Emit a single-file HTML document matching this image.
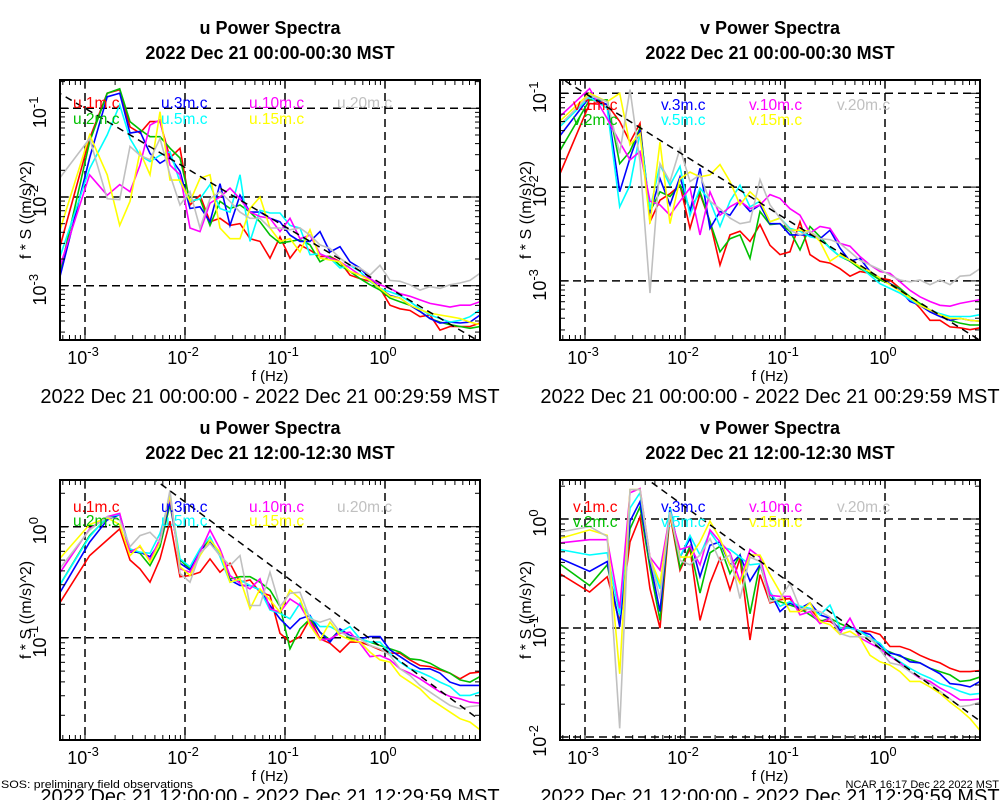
<!DOCTYPE html>
<html><head><meta charset="utf-8"><style>
html,body{margin:0;padding:0;background:#fff;}
svg{display:block;font-family:"Liberation Sans",sans-serif;}
</style></head><body>
<svg id="chart" width="1000" height="800" viewBox="0 0 1000 800" xmlns="http://www.w3.org/2000/svg"></svg>
<script>
// frequency categories (log10 Hz)
const logFreq = [-3.255,-2.954,-2.778,-2.653,-2.55,-2.45,-2.35,-2.25,-2.15,-2.05,-1.95,-1.85,-1.75,-1.65,-1.55,-1.45,-1.35,-1.25,-1.15,-1.05,-0.95,-0.85,-0.75,-0.65,-0.55,-0.45,-0.35,-0.25,-0.15,-0.05,0.05,0.15,0.25,0.35,0.45,0.55,0.65,0.75,0.85,0.95];
const seriesNames = ["1m","2m","3m","5m","10m","15m","20m"];
const seriesColors = ["#ff0000","#00c000","#0000ff","#00ffff","#ff00ff","#ffff00","#c0c0c0"];
// log10 of f*S values, top-left (u, 00:00)
const uNight_1m = [-2.58,-1.34,-0.83,-0.79,-1.21,-1.28,-1.15,-1.15,-1.56,-1.45,-2.09,-1.98,-2.28,-2.24,-2.32,-2.30,-2.47,-2.5,-2.69,-2.45,-2.69,-2.54,-2.6,-2.67,-2.67,-2.73,-2.88,-2.92,-2.95,-3.03,-3.22,-3.26,-3.28,-3.35,-3.33,-3.5,-3.46,-3.46,-3.46,-3.42];
const uNight_2m = [-2.88,-1.38,-0.83,-0.78,-1.15,-1.24,-1.32,-1.32,-1.45,-1.56,-2.05,-2.02,-2.32,-2.05,-2.13,-2.09,-2.17,-2.28,-2.43,-2.52,-2.5,-2.48,-2.54,-2.73,-2.67,-2.77,-2.84,-2.92,-2.99,-3.05,-3.14,-3.18,-3.22,-3.29,-3.37,-3.41,-3.44,-3.46,-3.48,-3.46];
const uNight_3m = [-2.92,-1.56,-0.87,-0.83,-1.28,-1.26,-1.51,-1.62,-1.55,-1.71,-2.13,-2.11,-2.28,-1.85,-2.32,-1.98,-2.17,-2.17,-2.24,-2.28,-2.43,-2.5,-2.5,-2.39,-2.62,-2.56,-2.73,-2.8,-2.92,-3.03,-3.11,-3.14,-3.22,-3.29,-3.37,-3.42,-3.41,-3.42,-3.41,-3.33];
const uNight_5m = [-2.69,-1.68,-1.3,-0.96,-1.34,-1.53,-1.6,-1.53,-1.49,-1.83,-2.05,-2.02,-1.86,-2.13,-2.17,-1.75,-2.5,-2.15,-2.18,-2.18,-2.32,-2.35,-2.65,-2.64,-2.69,-2.8,-2.77,-2.84,-2.95,-3.03,-3.07,-3.11,-3.18,-3.26,-3.33,-3.37,-3.41,-3.39,-3.35,-3.27];
const uNight_10m = [-2.8,-1.75,-1.98,-1.86,-1.94,-1.64,-1.19,-1.13,-1.64,-1.75,-2.35,-2.39,-2.07,-2,-1.9,-2.02,-2.17,-2.22,-2.24,-2.39,-2.24,-2.47,-2.43,-2.64,-2.69,-2.73,-2.8,-2.88,-2.92,-2.99,-3.03,-3.09,-3.12,-3.16,-3.2,-3.22,-3.24,-3.22,-3.22,-3.18];
const uNight_15m = [-2.39,-1.3,-1.75,-2.32,-2.05,-1.49,-1.75,-1.04,-1.81,-1.81,-2.05,-1.79,-1.75,-2.35,-2.47,-2.47,-2.13,-2,-2.35,-2.5,-2.47,-2.62,-2.37,-2.69,-2.71,-2.73,-2.84,-2.88,-2.94,-3.03,-3.12,-3.14,-3.22,-3.27,-3.31,-3.33,-3.35,-3.37,-3.41,-3.44];
const uNight_20m = [-1.79,-1.34,-2.02,-2.03,-1.43,-1.53,-1.58,-1.34,-1.75,-2.09,-1.94,-2.35,-2.02,-1.94,-2.05,-2.17,-2.24,-2.24,-2.35,-2.35,-2.37,-2.35,-2.43,-2.54,-2.58,-2.69,-2.77,-2.8,-2.88,-2.77,-2.94,-2.95,-2.99,-3.05,-3.01,-3.03,-2.99,-2.97,-2.94,-2.86];
// top-right (v, 00:00)
const vNight_1m = [-1.87,-1.11,-1.12,-1.3,-1.52,-1.32,-2.37,-2.14,-2.07,-1.98,-2.44,-2.07,-2.37,-2.83,-2.51,-2.47,-2.58,-2.4,-2.62,-2.72,-2.69,-2.37,-2.72,-2.79,-2.81,-2.87,-2.95,-2.9,-2.92,-2.97,-2.99,-3.08,-3.18,-3.29,-3.42,-3.42,-3.49,-3.5,-3.52,-3.5];
const vNight_2m = [-1.62,-1.07,-1.07,-1.75,-1.62,-1.37,-2.26,-2.05,-2.1,-1.98,-2.24,-2.05,-2.37,-2.69,-2.55,-2.51,-2.76,-2.26,-2.4,-2.39,-2.47,-2.67,-2.42,-2.53,-2.65,-2.74,-2.79,-2.87,-2.92,-2.99,-3.03,-3.08,-3.17,-3.24,-3.31,-3.36,-3.42,-3.45,-3.47,-3.47];
const vNight_3m = [-1.46,-1.04,-1.12,-2.05,-1.69,-1.39,-2.28,-1.91,-2.19,-1.89,-2.26,-1.8,-2.44,-2.26,-2.3,-2.14,-2.26,-2.19,-2.39,-2.39,-2.51,-2.51,-2.51,-2.55,-2.46,-2.65,-2.79,-2.76,-2.9,-2.97,-3.03,-3.1,-3.22,-3.26,-3.33,-3.38,-3.42,-3.4,-3.42,-3.43];
const vNight_5m = [-1.36,-1.04,-1.16,-2.21,-1.98,-1.43,-2.24,-1.76,-1.98,-1.78,-2.3,-2.01,-2.15,-2.42,-2.15,-1.98,-2.21,-2.15,-2.37,-2.33,-2.44,-2.47,-2.53,-2.55,-2.65,-2.74,-2.78,-2.85,-2.94,-3.03,-3.08,-3.13,-3.2,-3.26,-3.31,-3.35,-3.38,-3.38,-3.38,-3.36];
const vNight_10m = [-1.25,-0.95,-1.27,-1.52,-1.71,-1.62,-2.15,-2.19,-2.3,-2.15,-2.01,-2.51,-2.05,-2.3,-2.21,-2.15,-2.23,-2.19,-2.08,-2.12,-2.23,-2.3,-2.49,-2.42,-2.44,-2.6,-2.63,-2.74,-2.83,-2.9,-2.92,-3.01,-3.1,-3.17,-3.22,-3.26,-3.27,-3.24,-3.22,-3.2];
const vNight_15m = [-1.3,-1.0,-1.09,-1.0,-1.55,-1.43,-2.39,-1.52,-2.39,-1.91,-1.84,-1.89,-1.87,-1.76,-1.94,-2.19,-2.05,-2.15,-2.37,-2.33,-2.46,-2.46,-2.47,-2.58,-2.79,-2.72,-2.78,-2.85,-2.9,-2.97,-3.04,-3.11,-3.18,-3.26,-3.31,-3.36,-3.4,-3.4,-3.42,-3.43];
const vNight_20m = [-1.34,-1.02,-1.09,-1.64,-0.96,-1.73,-3.13,-1.75,-1.94,-1.59,-1.94,-1.87,-2.15,-2.23,-2.33,-2.39,-2.37,-1.92,-2.19,-2.33,-2.46,-2.51,-2.47,-2.55,-2.56,-2.6,-2.69,-2.78,-2.83,-2.88,-2.94,-2.99,-3.01,-2.99,-3.04,-2.99,-3.04,-2.95,-2.94,-2.87];
// bottom-left (u, 12:00)
const uNoon_1m = [-0.69,-0.26,-0.12,-0.02,-0.3,-0.38,-0.5,-0.29,0.05,-0.45,-0.44,-0.41,-0.29,-0.41,-0.33,-0.5,-0.48,-0.59,-0.62,-0.96,-1.04,-0.99,-0.83,-1.01,-1.05,-1.13,-1.04,-1.04,-1.07,-1.11,-1.14,-1.14,-1.2,-1.25,-1.26,-1.29,-1.32,-1.37,-1.32,-1.31];
const uNoon_2m = [-0.53,-0.08,0.08,0.11,-0.21,-0.24,-0.35,-0.18,0.2,-0.3,-0.38,-0.21,-0.12,-0.26,-0.47,-0.45,-0.45,-0.5,-0.57,-0.72,-1.1,-0.92,-0.83,-0.95,-1.02,-0.93,-1.01,-1.01,-1.04,-1.07,-1.1,-1.13,-1.19,-1.2,-1.23,-1.28,-1.32,-1.38,-1.4,-1.35];
const uNoon_3m = [-0.6,-0.14,0.06,0.11,-0.23,-0.23,-0.27,-0.14,0.23,-0.33,-0.39,-0.21,-0.14,-0.26,-0.48,-0.53,-0.53,-0.57,-0.71,-0.83,-0.92,-0.83,-0.8,-0.95,-1.04,-0.92,-0.98,-1.01,-0.99,-0.99,-1.11,-1.17,-1.23,-1.28,-1.28,-1.32,-1.4,-1.43,-1.43,-1.43];
const uNoon_5m = [-0.53,-0.09,0.09,0.11,-0.2,-0.23,-0.24,-0.06,0.26,-0.29,-0.36,-0.2,-0.09,-0.27,-0.5,-0.48,-0.53,-0.57,-0.75,-0.78,-0.83,-0.69,-0.81,-0.9,-0.9,-0.95,-0.9,-1.01,-1.04,-1.04,-1.14,-1.22,-1.28,-1.31,-1.35,-1.4,-1.44,-1.52,-1.52,-1.49];
const uNoon_10m = [-0.42,-0.02,0.09,0.12,-0.23,-0.18,-0.3,-0.11,0.27,-0.38,-0.41,-0.23,-0.03,-0.2,-0.44,-0.51,-0.56,-0.47,-0.74,-0.77,-0.65,-0.71,-0.86,-1.02,-1.01,-0.96,-0.95,-1.05,-1.17,-1.16,-1.2,-1.28,-1.32,-1.37,-1.43,-1.49,-1.53,-1.55,-1.58,-1.59];
const uNoon_15m = [-0.29,0.02,0.08,0.02,-0.26,-0.17,-0.32,-0.14,0.29,-0.36,-0.44,-0.26,-0.12,-0.23,-0.5,-0.47,-0.74,-0.56,-0.66,-0.77,-0.57,-0.65,-0.89,-1.02,-0.86,-0.98,-1.02,-1.04,-1.13,-1.2,-1.22,-1.34,-1.4,-1.46,-1.55,-1.61,-1.67,-1.73,-1.76,-1.83];
const uNoon_20m = [-0.38,-0.03,0.09,0.06,-0.18,-0.08,-0.05,-0.14,0.33,-0.42,-0.5,-0.24,-0.15,-0.26,-0.35,-0.26,-0.71,-0.71,-0.41,-0.72,-0.6,-0.59,-0.83,-0.86,-0.83,-0.95,-0.99,-1.01,-1.07,-1.1,-1.16,-1.28,-1.34,-1.43,-1.49,-1.55,-1.61,-1.64,-1.62,-1.61];
// bottom-right (v, 12:00)
const vNoon_1m = [-0.5,-0.67,-0.53,-0.94,-0.21,0.02,-0.64,-1.0,0.04,-0.47,-0.27,-0.93,-0.59,-0.36,-0.65,-0.36,-1.11,-0.51,-0.77,-0.74,-0.73,-0.85,-0.82,-0.93,-0.94,-1.0,-0.99,-1.03,-1.03,-1.06,-1.17,-1.17,-1.2,-1.25,-1.29,-1.32,-1.37,-1.4,-1.4,-1.39];
const vNoon_2m = [-0.41,-0.61,-0.42,-0.97,-0.09,0.11,-0.45,-0.93,0.08,-0.45,-0.25,-0.68,-0.31,-0.25,-0.5,-0.33,-0.87,-0.41,-0.73,-0.76,-0.79,-0.82,-0.88,-0.94,-0.91,-0.96,-1.0,-1.03,-1.09,-1.19,-1.22,-1.26,-1.29,-1.32,-1.37,-1.4,-1.43,-1.49,-1.48,-1.45];
const vNoon_3m = [-0.36,-0.48,-0.39,-0.99,-0.02,0.16,-0.39,-0.85,0.11,-0.35,-0.18,-0.53,-0.24,-0.21,-0.42,-0.33,-0.57,-0.42,-0.67,-0.85,-0.77,-0.82,-0.77,-0.88,-0.91,-1.02,-0.99,-1.03,-1.06,-1.16,-1.23,-1.25,-1.31,-1.32,-1.37,-1.42,-1.51,-1.52,-1.54,-1.49];
const vNoon_5m = [-0.28,-0.33,-0.31,-0.88,0.1,0.24,-0.36,-0.64,0.1,-0.35,-0.15,-0.33,-0.12,-0.25,-0.28,-0.35,-0.42,-0.41,-0.67,-0.8,-0.76,-0.8,-0.82,-0.88,-0.79,-1.0,-1.0,-1.03,-1.09,-1.14,-1.25,-1.31,-1.37,-1.42,-1.46,-1.51,-1.54,-1.58,-1.61,-1.6];
const vNoon_10m = [-0.22,-0.19,-0.19,-0.82,0.24,0.28,-0.35,-0.47,0.04,-0.28,-0.25,-0.42,-0.1,-0.21,-0.31,-0.57,-0.28,-0.35,-0.7,-0.71,-0.71,-0.88,-0.85,-0.96,-0.91,-1.05,-0.91,-1.09,-1.14,-1.19,-1.26,-1.32,-1.4,-1.46,-1.49,-1.55,-1.6,-1.66,-1.66,-1.65];
const vNoon_15m = [-0.18,-0.1,-0.15,-1.42,0.27,0.27,-0.36,-0.59,0.04,-0.35,-0.35,-0.21,-0.02,-0.18,-0.42,-0.59,-0.33,-0.33,-0.51,-0.67,-0.85,-0.85,-0.77,-0.94,-0.97,-1.06,-1.03,-1.09,-1.25,-1.31,-1.34,-1.4,-1.49,-1.49,-1.54,-1.6,-1.68,-1.75,-1.83,-1.94];
const vNoon_20m = [-0.12,-0.07,-0.16,-1.92,0.27,0.27,-0.36,-0.73,0.07,-0.38,-0.42,-0.33,-0.18,-0.39,-0.33,-0.73,-0.35,-0.39,-0.76,-0.73,-0.59,-0.82,-0.83,-0.85,-0.9,-1.05,-1.08,-1.08,-1.09,-1.2,-1.32,-1.34,-1.4,-1.45,-1.51,-1.58,-1.65,-1.72,-1.71,-1.68];
// reference -2/3 line: log10 value at f = 1e-3
const refLineAt1e3 = [-1.0, -1.0, 0.89, 0.78];
const xTickExps = [-3,-2,-1,0];
const yTickExpsTL = [-1,-2,-3], yTickExpsTR = [-1,-2,-3], yTickExpsBL = [0,-1], yTickExpsBR = [0,-1,-2];

const NS="http://www.w3.org/2000/svg";
const svg=document.getElementById('chart');
function mk(tag,attrs,parent){const e=document.createElementNS(NS,tag);for(const k in attrs)e.setAttribute(k,attrs[k]);(parent||svg).appendChild(e);return e;}

const panels=[
 {key:'tl',x0:60,y0:80,w:420,h:260,yRef:108.3,Lref:-1,ppd:88.7,comp:'u',title2:'2022 Dec 21 00:00-00:30 MST',cap:'2022 Dec 21 00:00:00 - 2022 Dec 21 00:29:59 MST',data:[uNight_1m,uNight_2m,uNight_3m,uNight_5m,uNight_10m,uNight_15m,uNight_20m],yt:yTickExpsTL,ref:refLineAt1e3[0],legY:[103,119]},
 {key:'tr',x0:560,y0:80,w:420,h:260,yRef:93.3,Lref:-1,ppd:93.8,comp:'v',title2:'2022 Dec 21 00:00-00:30 MST',cap:'2022 Dec 21 00:00:00 - 2022 Dec 21 00:29:59 MST',data:[vNight_1m,vNight_2m,vNight_3m,vNight_5m,vNight_10m,vNight_15m,vNight_20m],yt:yTickExpsTR,ref:refLineAt1e3[1],legY:[105,120]},
 {key:'bl',x0:60,y0:480,w:420,h:260,yRef:526.7,Lref:0,ppd:111,comp:'u',title2:'2022 Dec 21 12:00-12:30 MST',cap:'2022 Dec 21 12:00:00 - 2022 Dec 21 12:29:59 MST',data:[uNoon_1m,uNoon_2m,uNoon_3m,uNoon_5m,uNoon_10m,uNoon_15m,uNoon_20m],yt:yTickExpsBL,ref:refLineAt1e3[2],legY:[507,521]},
 {key:'br',x0:560,y0:480,w:420,h:260,yRef:519,Lref:0,ppd:109,comp:'v',title2:'2022 Dec 21 12:00-12:30 MST',cap:'2022 Dec 21 12:00:00 - 2022 Dec 21 12:29:59 MST',data:[vNoon_1m,vNoon_2m,vNoon_3m,vNoon_5m,vNoon_10m,vNoon_15m,vNoon_20m],yt:yTickExpsBR,ref:refLineAt1e3[3],legY:[507,522]}
];
const legendOrder=[[0,0,0],[1,0,1],[2,1,0],[3,1,1],[4,2,0],[5,2,1],[6,3,0]];

panels.forEach(p=>{
 const xS=lf=>p.x0+25+100*(lf+3);
 const yS=L=>p.yRef-p.ppd*(L-p.Lref);
 const g=mk('g',{});
 
 
 const cx=p.x0+p.w/2;
 const t1=mk('text',{x:cx,y:p.y0-46,'text-anchor':'middle','font-size':18,'font-weight':'bold'},g);
 t1.textContent=p.comp+' Power Spectra';
 
 
 const t2=mk('text',{x:cx,y:p.y0-21,'text-anchor':'middle','font-size':18,'font-weight':'bold'},g);
 t2.textContent=p.title2;
 
 
 const cid='clip-'+p.key;
 const cp=mk('clipPath',{id:cid},g);
 mk('rect',{x:p.x0,y:p.y0,width:p.w,height:p.h},cp);
 const plot=mk('g',{'clip-path':'url(#'+cid+')'},g);
 
 
 xTickExps.forEach(e=>{const gl=mk('line',{x1:xS(e),x2:xS(e),y1:p.y0,y2:p.y0+p.h,stroke:'#000','stroke-width':1.5,'stroke-dasharray':'8,5'},plot);
  
  });
 p.yt.forEach(e=>{const gl=mk('line',{x1:p.x0,x2:p.x0+p.w,y1:yS(e),y2:yS(e),stroke:'#000','stroke-width':1.5,'stroke-dasharray':'8,5'},plot);
  
  });
 p.data.forEach((arr,i)=>{
  const d=arr.map((v,j)=>(j?'L':'M')+xS(logFreq[j]).toFixed(1)+','+yS(v).toFixed(1)).join('');
  const pl=mk('path',{d:d,fill:'none',stroke:seriesColors[i],'stroke-width':1.6,'stroke-linejoin':'miter'},plot);
  
  
 });
 const rl=mk('line',{x1:xS(-3.4),y1:yS(p.ref-(2/3)*(-3.4+3)),x2:xS(1.1),y2:yS(p.ref-(2/3)*(1.1+3)),stroke:'#000','stroke-width':1.5,'stroke-dasharray':'7,5'},plot);
 
 
 legendOrder.forEach(([si,col,row])=>{
  const lt=mk('text',{x:p.x0+13+col*88,y:p.legY[row]+5,'font-size':15.5,fill:seriesColors[si]},g);
  lt.textContent=p.comp+'.'+seriesNames[si]+'.c';
  
  
 });
 const fr=mk('rect',{x:p.x0,y:p.y0,width:p.w,height:p.h,fill:'none',stroke:'#000','stroke-width':2},g);
 
 
 for(let e=-4;e<=1;e++){for(let m=1;m<10;m++){const lf=e+Math.log10(m);const x=xS(lf);if(x<p.x0+1||x>p.x0+p.w-1)continue;const len=m===1?9:5;
  mk('line',{x1:x,x2:x,y1:p.y0+p.h,y2:p.y0+p.h-len,stroke:'#000','stroke-width':1},g);
  mk('line',{x1:x,x2:x,y1:p.y0,y2:p.y0+len,stroke:'#000','stroke-width':1},g);}}
 for(let e=-5;e<=2;e++){for(let m=1;m<10;m++){const L=e+Math.log10(m);const y=yS(L);if(y<p.y0+1||y>p.y0+p.h-1)continue;const len=m===1?9:5;
  mk('line',{x1:p.x0,x2:p.x0+len,y1:y,y2:y,stroke:'#000','stroke-width':1},g);
  mk('line',{x1:p.x0+p.w,x2:p.x0+p.w-len,y1:y,y2:y,stroke:'#000','stroke-width':1},g);}}
 xTickExps.forEach(e=>{const tx=mk('text',{x:xS(e)-2,y:p.y0+p.h+24,'text-anchor':'middle','font-size':18},g);
  tx.innerHTML='10<tspan dy="-8" font-size="13">'+e+'</tspan>';
  
  });
 p.yt.forEach(e=>{const ty=mk('text',{transform:'translate('+(p.x0-14)+','+(yS(e)+4)+') rotate(-90)','text-anchor':'middle','font-size':18},g);
  ty.innerHTML='10<tspan dy="-8" font-size="13">'+e+'</tspan>';
  
  });
 const yl=mk('text',{transform:'translate('+(p.x0-29)+','+(p.y0+130)+') rotate(-90)','text-anchor':'middle','font-size':16},g);
 yl.textContent='f * S ((m/s)^2)';
 
 
 const xl=mk('text',{x:p.x0+210,y:p.y0+p.h+41,'text-anchor':'middle','font-size':15},g);
 xl.textContent='f (Hz)';
 
 
 const cap=mk('text',{x:p.x0+210,y:p.y0+p.h+63,'text-anchor':'middle','font-size':20},g);
 cap.textContent=p.cap;
 
 
});
const f1=mk('text',{x:1,y:788,'font-size':11,textLength:192,lengthAdjust:'spacingAndGlyphs'});
f1.textContent='SOS: preliminary field observations';


const f2=mk('text',{x:999,y:788,'text-anchor':'end','font-size':11});
f2.textContent='NCAR 16:17 Dec 22 2022 MST';


</script>
</body></html>
